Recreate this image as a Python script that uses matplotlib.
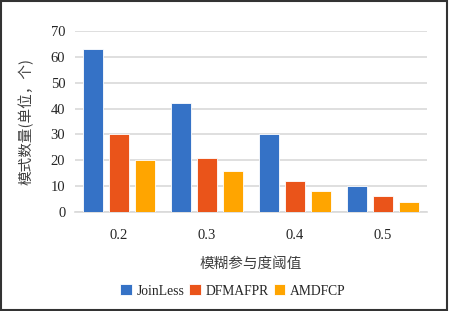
import matplotlib
matplotlib.use("Agg")
import matplotlib.pyplot as plt
import numpy as np
from matplotlib.patches import Rectangle

categories = ["0.2", "0.3", "0.4", "0.5"]
series_names = ["JoinLess", "DFMAFPR", "AMDFCP"]
joinless = [63, 42, 30, 10]
dfmafpr = [30, 21, 12, 6]
amdfcp = [20, 16, 8, 4]
colors = ["#3572C6", "#EA541A", "#FFA500"]
yticks = [0, 10, 20, 30, 40, 50, 60, 70]

fam = ["Liberation Serif", "Noto Sans CJK SC"]
plt.rcParams["font.family"] = fam

fig = plt.figure(figsize=(4.49, 3.11), dpi=100)
ax = fig.add_axes([75/449, 1-212/311, 352/449, (212-31)/311])

x = np.arange(len(categories))
w = 0.23
step = 0.295
for i, (vals, c, n) in enumerate(zip([joinless, dfmafpr, amdfcp], colors, series_names)):
    ax.bar(x + (i-1)*step, vals, width=w, color=c, edgecolor="white", linewidth=0.6, label=n, zorder=3)

ax.set_xlim(-0.5, 3.5)
ax.set_ylim(0, 70)
ax.set_yticks(yticks)
ax.yaxis.grid(True, color="#d9d9d9", linewidth=1.2, zorder=0)
ax.set_axisbelow(True)
for s in ["top", "right", "left"]:
    ax.spines[s].set_visible(False)
ax.spines["bottom"].set_color("#d9d9d9")
ax.spines["bottom"].set_linewidth(1.2)
ax.tick_params(axis="both", length=0, labelsize=10.5, colors="#262626")
ax.tick_params(axis="x", pad=12)
ax.tick_params(axis="y", pad=7)
ax.set_xticks(x)
ax.set_xticklabels(categories)

ax.set_xlabel("模糊参与度阈值", fontsize=10.5, color="#404040", labelpad=11, family=["Noto Sans CJK SC"])
ax.set_ylabel("模式数量(单位，个)", fontsize=10.5, color="#404040", labelpad=12, family=["Noto Sans CJK SC"])

leg = fig.legend(loc="center", bbox_to_anchor=(233/449, 1-291/311), ncol=3, frameon=False,
                 fontsize=9.8, handlelength=0.85, handleheight=0.85, handletextpad=0.35,
                 columnspacing=0.35)
for t in leg.get_texts():
    t.set_color("#262626")

fig.patches.append(Rectangle((0.002, 0.003), 0.993, 0.994, transform=fig.transFigure,
                             fill=False, edgecolor="#333333", linewidth=1.5))
fig.savefig("out.png", dpi=100)
